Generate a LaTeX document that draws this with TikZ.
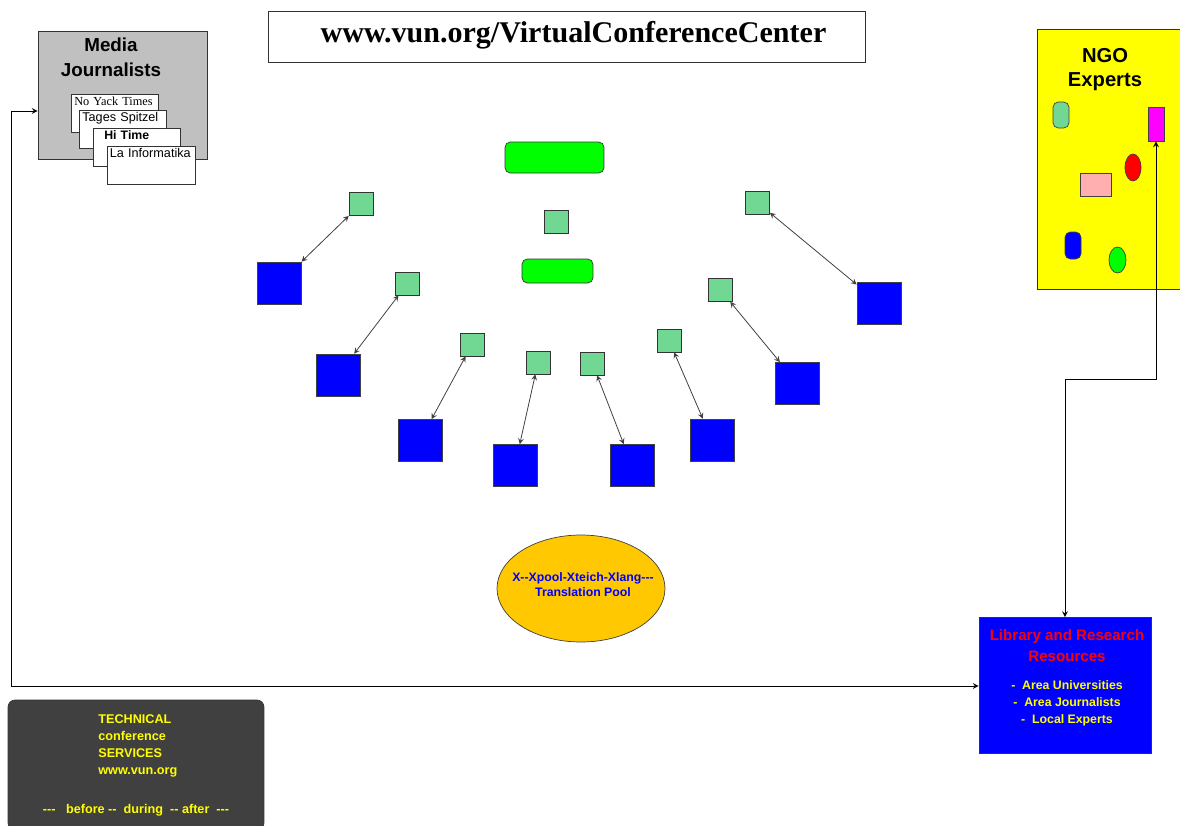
\documentclass[tikz,border=0pt]{standalone}
\usepackage{fontspec}
\setmainfont{Liberation Sans}[Ligatures=TeXOff]
\newfontfamily\timesfont{Liberation Serif}[Ligatures=TeXOff]
\usetikzlibrary{shapes.geometric, arrows}

\definecolor{mint}{RGB}{112,216,146}
\definecolor{lime}{RGB}{0,255,0}
\definecolor{pool}{RGB}{255,200,0}
\definecolor{paper}{RGB}{192,192,192}
\definecolor{slate}{RGB}{64,64,64}
\definecolor{pinkish}{RGB}{255,175,175}
\definecolor{deepblue}{RGB}{0,0,255}
\definecolor{sun}{RGB}{255,255,0}
\definecolor{fuchsia}{RGB}{255,0,255}
\definecolor{signal}{RGB}{255,0,0}

\begin{document}
\begin{tikzpicture}[x=0.02cm, y=-0.02cm,
	seat/.style={draw=black!80, fill=mint, minimum width=0.48cm, minimum height=0.46cm, inner sep=0pt},
	delegate/.style={draw=black!75, fill=deepblue, minimum width=0.88cm, minimum height=0.84cm, inner sep=0pt},
	bar/.style={draw=black!80, fill=lime, rounded corners=3pt, inner sep=0pt},
	card/.style={draw=black!80, fill=white, anchor=north west, inner xsep=0.06cm, inner ysep=0.06cm,
		text width=1.62cm, align=left, text height=0.17cm, text depth=0.47cm, font=\fontsize{7.2}{8}\selectfont},
	gadget/.style={draw=black!75, inner sep=0pt},
	link/.style={<->, >=stealth, draw=black!75, line width=0.45pt},
	wire/.style={<->, >=stealth, draw=black, line width=0.5pt}]
	\clip (0,0) rectangle (1180,825);
	\fill[white] (0,0) rectangle (1180,825);

	% title
	\node[draw=black!80, minimum width=11.94cm, minimum height=1.02cm] (title) at (566.5,36.5) {};
	\node[font=\timesfont\bfseries\fontsize{17.1}{20}\selectfont] (titletext) at (573.5,35.5) {www.vun.org/VirtualConferenceCenter};

	% media corner
	\node[draw=black!80, fill=paper, minimum width=3.38cm, minimum height=2.56cm] (media) at (122.5,95) {};
	\node[align=center, font=\bfseries\fontsize{10.7}{14}\selectfont] (mediatext) at (111,57.5) {Media\\Journalists};
	\node[card, font=\timesfont\fontsize{7}{8}\selectfont] (yack) at (71,94) {No Yack Times};
	\node[card] (tages) at (79,110) {Tages Spitzel};
	\node[card, font=\bfseries\fontsize{7}{8}\selectfont] (hitime) at (93,128) {\hspace{0.16cm}Hi Time};
	\node[card, inner xsep=0.05cm, text width=1.66cm] (info) at (107,146) {La Informatika};

	% ngo corner
	\node[draw=black!80, fill=sun, minimum width=3.06cm, minimum height=5.2cm] (ngo) at (1113.5,159) {};
	\node[align=center, font=\bfseries\fontsize{11.5}{14}\selectfont] (ngotext) at (1105,69.5) {NGO\\Experts};
	\node[gadget, fill=mint, rounded corners=3pt, minimum width=0.32cm, minimum height=0.52cm] (e1) at (1061,115) {};
	\node[gadget, fill=fuchsia, minimum width=0.32cm, minimum height=0.68cm] (pad) at (1156,124) {};
	\node[gadget, fill=signal, ellipse, minimum width=0.32cm, minimum height=0.54cm] (e3) at (1133,167.5) {};
	\node[gadget, fill=pinkish, minimum width=0.62cm, minimum height=0.46cm] (e4) at (1095.5,184.5) {};
	\node[gadget, fill=deepblue, rounded corners=3pt, minimum width=0.32cm, minimum height=0.54cm] (e5) at (1073,245.5) {};
	\node[gadget, fill=lime, ellipse, minimum width=0.34cm, minimum height=0.52cm] (e6) at (1117.5,260) {};

	% podium
	\node[bar, minimum width=1.98cm, minimum height=0.62cm] (chair) at (554.5,157.5) {};
	\node[seat] (speaker) at (556,221.5) {};
	\node[bar, minimum width=1.42cm, minimum height=0.48cm] (desk) at (557.5,271) {};

	% delegates with their interpreters
	\foreach \n/\gx/\gy/\bx/\by in {1/361/204/279.5/283, 2/407.5/283.5/338/375, 3/472/344.5/420/440.5,
		4/538/362.5/515/465.5, 5/592.5/363.5/632/465.5, 6/669/340.5/712/440,
		7/720.5/290/797.5/383.5, 8/757.5/202.5/879/303}{
		\node[seat] (g\n) at (\gx,\gy) {};
		\node[delegate] (b\n) at (\bx,\by) {};
		\draw[link] (g\n) -- (b\n);
	}

	% translation pool
	\node[draw=black!75, fill=pool, ellipse, minimum width=3.36cm, minimum height=2.14cm, inner sep=0pt] (pool) at (581,588.5) {};
	\node[align=center, text=deepblue, font=\bfseries\fontsize{7}{8.6}\selectfont] (pooltext) at (583,584.5) {X--Xpool-Xteich-Xlang---\\Translation Pool};

	% library
	\node[draw=black!80, fill=deepblue, minimum width=3.44cm, minimum height=2.72cm] (library) at (1065,685.5) {};
	\node[align=center, text=signal, font=\bfseries\fontsize{8.6}{11.9}\selectfont] (libtitle) at (1067,645.5) {Library and Research\\Resources};
	\node[align=center, text=sun, font=\bfseries\fontsize{7}{9.6}\selectfont] (libitems) at (1067,703) {-\ \ Area Universities\\-\ \ Area Journalists\\-\ \ Local Experts};

	% technical services
	\node[draw=black!80, fill=slate, rounded corners=4pt, minimum width=5.12cm, minimum height=2.6cm] (tech) at (136,765) {};
	\node[anchor=north west, inner sep=0pt, align=left, text=sun, font=\bfseries\fontsize{7.2}{9.6}\selectfont] (techtext) at (98,714.5) {TECHNICAL\\conference\\SERVICES\\www.vun.org};
	\node[text=sun, font=\bfseries\fontsize{7.2}{9}\selectfont] (phases) at (136,810) {---\ \ \ before --\ \ during\ \ -- after\ \ ---};

	% connectors
	\coordinate (mleft) at (11,111);
	\coordinate (mfoot) at (11,686);
	\coordinate (bend) at (1065,379);
	\draw[wire] (media.west |- mleft) -- (mleft) -- (mfoot) -- (library.west |- mfoot);
	\draw[wire] (pad.south) |- (bend) -- (library.north);
\end{tikzpicture}
\end{document}
